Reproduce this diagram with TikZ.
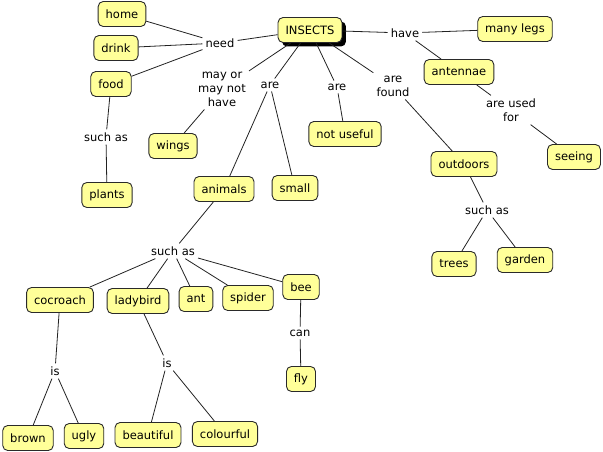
\documentclass[tikz,border=0pt]{standalone}
\usepackage{fontspec}
\setmainfont{DejaVu Sans}
\usetikzlibrary{shadows}
\definecolor{boxfill}{HTML}{FFFF99}
\definecolor{boxline}{HTML}{2A2A2A}
\definecolor{linkc}{HTML}{222222}
\begin{document}
\begin{tikzpicture}[x=1pt,y=-1pt,
  font=\fontsize{11.5}{14}\selectfont,
  concept/.style={draw=boxline, line width=0.9pt, fill=boxfill, rounded corners=5pt,
    minimum height=25pt, inner xsep=7.5pt, inner ysep=2pt, text=black},
  link/.style={align=center, inner sep=3pt, text=black},
  conn/.style={draw=linkc, line width=0.8pt}]
\useasboundingbox (0,0) rectangle (603,452);
% concepts
\node[concept, drop shadow={shadow xshift=4pt, shadow yshift=-4pt, fill=black, opacity=1}] (insects) at (310,30) {INSECTS};
\node[concept] (home) at (122,14) {home};
\node[concept] (drink) at (116,48) {drink};
\node[concept] (food) at (111,84) {food};
\node[concept] (plants) at (107,195) {plants};
\node[concept] (wings) at (173,146) {wings};
\node[concept] (animals) at (224,189) {animals};
\node[concept] (small) at (295,188) {small};
\node[concept] (notuseful) at (345,134) {not useful};
\node[concept] (manylegs) at (515,29) {many legs};
\node[concept] (antennae) at (459,72) {antennae};
\node[concept] (seeing) at (574,157) {seeing};
\node[concept] (outdoors) at (464,164) {outdoors};
\node[concept] (trees) at (454,264) {trees};
\node[concept] (garden) at (525,260) {garden};
\node[concept] (cocroach) at (60,300) {cocroach};
\node[concept] (ladybird) at (138,301) {ladybird};
\node[concept] (ant) at (196,299) {ant};
\node[concept] (spider) at (248,298) {spider};
\node[concept] (bee) at (301,287) {bee};
\node[concept] (fly) at (301,379) {fly};
\node[concept] (brown) at (28,438) {brown};
\node[concept] (ugly) at (84,436) {ugly};
\node[concept] (beautiful) at (148,435) {beautiful};
\node[concept] (colourful) at (225,434) {colourful};
% link labels
\node[link] (need) at (220,43) {need};
\node[link] (suchasA) at (106,137) {such as};
\node[link] (maynot) at (222,89) {may or\\may not\\have};
\node[link] (areA) at (270,85) {are};
\node[link] (areB) at (337,87) {are};
\node[link] (arefound) at (393,86) {are\\found};
\node[link] (have) at (405,33) {have};
\node[link] (areused) at (511,110) {are used\\for};
\node[link] (suchasC) at (487,210) {such as};
\node[link] (suchasB) at (173,251) {such as};
\node[link] (isA) at (55,371) {is};
\node[link] (isB) at (167,363) {is};
\node[link] (can) at (300,333) {can};
% connectors
\draw[conn] (insects) -- (need);
\draw[conn] (need) -- (home);
\draw[conn] (need) -- (drink);
\draw[conn] (need) -- (food);
\draw[conn] (food) -- (suchasA);
\draw[conn] (suchasA) -- (plants);
\draw[conn] (insects) -- (maynot);
\draw[conn] (maynot) -- (wings);
\draw[conn] (insects) -- (areA);
\draw[conn] (areA) -- (animals);
\draw[conn] (areA) -- (small);
\draw[conn] (insects) -- (areB);
\draw[conn] (areB) -- (notuseful);
\draw[conn] (insects) -- (arefound);
\draw[conn] (arefound) -- (outdoors);
\draw[conn] (insects) -- (have);
\draw[conn] (have) -- (manylegs);
\draw[conn] (have) -- (antennae);
\draw[conn] (antennae) -- (areused);
\draw[conn] (areused) -- (seeing);
\draw[conn] (outdoors) -- (suchasC);
\draw[conn] (suchasC) -- (trees);
\draw[conn] (suchasC) -- (garden);
\draw[conn] (animals) -- (suchasB);
\draw[conn] (suchasB) -- (cocroach);
\draw[conn] (suchasB) -- (ladybird);
\draw[conn] (suchasB) -- (ant);
\draw[conn] (suchasB) -- (spider);
\draw[conn] (suchasB) -- (bee);
\draw[conn] (cocroach) -- (isA);
\draw[conn] (isA) -- (brown);
\draw[conn] (isA) -- (ugly);
\draw[conn] (ladybird) -- (isB);
\draw[conn] (isB) -- (beautiful);
\draw[conn] (isB) -- (colourful);
\draw[conn] (bee) -- (can);
\draw[conn] (can) -- (fly);
\end{tikzpicture}
\end{document}
